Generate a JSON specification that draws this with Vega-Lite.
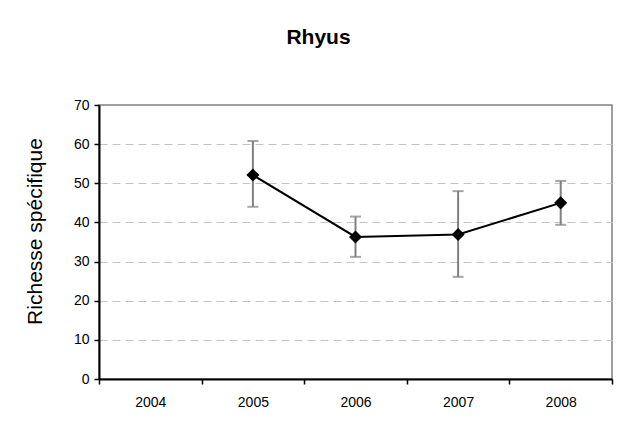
{
  "$schema": "https://vega.github.io/schema/vega-lite/v6.json",
  "autosize": "none",
  "width": 513,
  "height": 274,
  "padding": {"left": 99, "top": 105, "right": 13, "bottom": 51},
  "background": "white",
  "title": {
    "text": "Rhyus",
    "font": "Liberation Sans",
    "fontSize": 21,
    "fontWeight": "bold",
    "color": "black",
    "anchor": "middle",
    "frame": "group",
    "baseline": "alphabetic",
    "dx": -37,
    "offset": 33
  },
  "config": {
    "view": {"stroke": "#808080", "strokeWidth": 1.5},
    "font": "Liberation Sans",
    "axisY": {"labelOverlap": false, "tickCount": 8}
  },
  "data": {
    "values": [
      {"annee": "2005", "richesse": 52.1, "bas": 44.0, "haut": 60.8},
      {"annee": "2006", "richesse": 36.3, "bas": 31.2, "haut": 41.5},
      {"annee": "2007", "richesse": 36.9, "bas": 26.1, "haut": 48.0},
      {"annee": "2008", "richesse": 45.0, "bas": 39.4, "haut": 50.6}
    ]
  },
  "encoding": {
    "x": {
      "field": "annee",
      "type": "ordinal",
      "scale": {"domain": ["2004", "2005", "2006", "2007", "2008"], "paddingInner": 0, "paddingOuter": 0},
      "axis": {
        "title": null,
        "labelAngle": 0,
        "labelFont": "Liberation Sans",
        "labelFontSize": 14,
        "labelColor": "black",
        "labelPadding": 11,
        "tickBand": "extent",
        "tickColor": "black",
        "tickSize": 5,
        "tickWidth": 1.5,
        "domainColor": "black",
        "domainWidth": 2,
        "grid": false
      }
    },
    "y": {
      "field": "richesse",
      "type": "quantitative",
      "scale": {"domain": [0, 70], "nice": false},
      "axis": {
        "title": "Richesse spécifique",
        "titleFont": "Liberation Sans",
        "titleFontSize": 21,
        "titleFontWeight": "normal",
        "titleColor": "black",
        "titlePadding": 28,
        "titleY": 126,
        "values": [0, 10, 20, 30, 40, 50, 60, 70],
        "labelFont": "Liberation Sans",
        "labelFontSize": 14,
        "labelColor": "black",
        "labelPadding": 5,
        "tickColor": "black",
        "tickSize": 5,
        "tickWidth": 1.5,
        "domainColor": "black",
        "domainWidth": 2,
        "grid": true,
        "gridColor": "#c4c4c4",
        "gridDash": [8, 5],
        "gridWidth": 1,
        "gridOpacity": {"condition": {"test": "datum.value >= 70 || datum.value <= 0", "value": 0}, "value": 1}
      }
    }
  },
  "layer": [
    {
      "mark": {"type": "rule", "color": "#808080", "strokeWidth": 2},
      "encoding": {
        "y": {"field": "bas", "type": "quantitative"},
        "y2": {"field": "haut"}
      }
    },
    {
      "mark": {"type": "tick", "color": "#808080", "size": 11, "thickness": 2},
      "encoding": {"y": {"field": "bas", "type": "quantitative"}}
    },
    {
      "mark": {"type": "tick", "color": "#808080", "size": 11, "thickness": 2},
      "encoding": {"y": {"field": "haut", "type": "quantitative"}}
    },
    {
      "mark": {"type": "line", "color": "black", "strokeWidth": 2}
    },
    {
      "mark": {"type": "point", "shape": "diamond", "filled": true, "color": "black", "size": 170, "opacity": 1}
    }
  ]
}
